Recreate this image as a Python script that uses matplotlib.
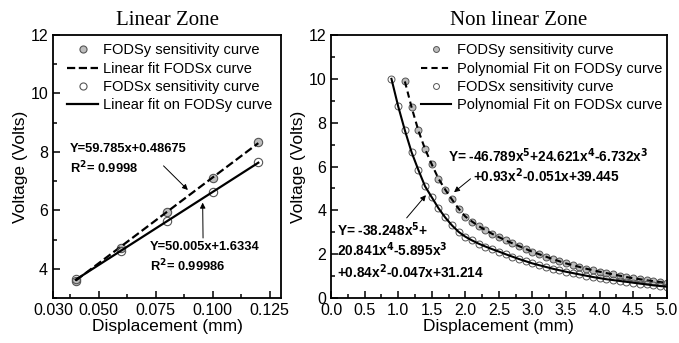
import matplotlib
matplotlib.use('Agg')
import matplotlib.pyplot as plt
from matplotlib.ticker import MultipleLocator, FixedLocator, FormatStrFormatter

plt.rcParams['font.family'] = ['Liberation Sans', 'DejaVu Sans']

# linear zone data
lin_x = [0.04, 0.06, 0.08, 0.10, 0.12]
lin_y_fodsy = [3.60, 4.72, 5.94, 7.10, 8.33]
lin_y_fodsx = [3.66, 4.60, 5.62, 6.62, 7.65]
lin_fit_x = [0.04, 0.12]
lin_fit_y = [3.60, 8.30]
lin_fit_x2 = [0.04, 0.12]
lin_fit_y2 = [3.63, 7.63]

# non linear zone data
nl_x_fodsy = [1.1, 1.2, 1.3, 1.4, 1.5, 1.6, 1.7, 1.8, 1.9, 2.0,
              2.1, 2.2, 2.3, 2.4, 2.5, 2.6, 2.7, 2.8, 2.9, 3.0,
              3.1, 3.2, 3.3, 3.4, 3.5, 3.6, 3.7, 3.8, 3.9, 4.0,
              4.1, 4.2, 4.3, 4.4, 4.5, 4.6, 4.7, 4.8, 4.9, 5.0]
nl_y_fodsy = [9.88, 8.70, 7.65, 6.80, 6.10, 5.45, 4.95, 4.50, 4.08, 3.72,
              3.49, 3.28, 3.10, 2.93, 2.78, 2.63, 2.50, 2.37, 2.24, 2.11,
              2.00, 1.89, 1.78, 1.68, 1.58, 1.50, 1.42, 1.34, 1.27, 1.20,
              1.14, 1.08, 1.02, 0.96, 0.90, 0.86, 0.81, 0.77, 0.73, 0.69]
nl_x_fodsx = [0.9, 1.0] + nl_x_fodsy
nl_y_fodsx = [10.0, 8.75, 7.65, 6.65, 5.85, 5.10, 4.60, 4.10, 3.68, 3.32, 3.02, 2.80,
              2.63, 2.48, 2.35, 2.23, 2.12, 2.00, 1.89, 1.78, 1.68, 1.58,
              1.50, 1.42, 1.34, 1.27, 1.20, 1.14, 1.08, 1.02, 0.96, 0.91,
              0.86, 0.82, 0.78, 0.74, 0.70, 0.66, 0.62, 0.58, 0.55, 0.52]

grey = '#bdbdbd'
edge = '#555555'

fig = plt.figure(figsize=(6.79, 3.43), dpi=100)
ax1 = fig.add_axes([0.078, 0.131, 0.336, 0.767])
ax2 = fig.add_axes([0.4875, 0.131, 0.4945, 0.767])

for ax in (ax1, ax2):
    for sp in ax.spines.values():
        sp.set_linewidth(1.3)
    ax.tick_params(which='both', direction='in', top=False, right=False,
                   labelsize=11.5, width=1.1)
    ax.tick_params(which='major', length=5)
    ax.tick_params(which='minor', length=3)
    ax.set_xlabel('Displacement (mm)', fontsize=12.5, labelpad=1)
    ax.set_ylabel('Voltage (Volts)', fontsize=12.5, labelpad=2)

leg_kw = dict(loc='upper right', frameon=False, fontsize=10.5,
              handlelength=2.1, handletextpad=0.35, labelspacing=0.3,
              borderpad=0.25, markerscale=0.85)

# ---- linear zone
ax1.plot(lin_x, lin_y_fodsy, 'o', ms=6, mfc=grey, mec=edge, mew=0.8,
         label='FODSy sensitivity curve')
ax1.plot(lin_fit_x, lin_fit_y, '--', color='black', lw=1.6,
         label='Linear fit FODSx curve')
ax1.plot(lin_x, lin_y_fodsx, 'o', ms=6, mfc='none', mec=edge, mew=0.8,
         label='FODSx sensitivity curve')
ax1.plot(lin_fit_x2, lin_fit_y2, '-', color='black', lw=1.6,
         label='Linear fit on FODSy curve')
ax1.set_xlim(0.03, 0.13)
ax1.set_ylim(3, 12)
ax1.xaxis.set_major_locator(FixedLocator([0.03, 0.05, 0.075, 0.1, 0.125]))
ax1.set_xticklabels(['0.030', '0.050', '0.075', '0.100', '0.125'])
ax1.xaxis.set_minor_locator(FixedLocator([0.0375, 0.0625, 0.0875, 0.1125]))
ax1.yaxis.set_minor_locator(MultipleLocator(1))
ax1.set_yticks([4, 6, 8, 10, 12])
ax1.set_title('Linear Zone', family='Liberation Serif', fontsize=15, pad=7)
ax1.legend(bbox_to_anchor=(1.01, 1.01), **leg_kw)

ax1.annotate('', xy=(0.09, 6.63), xytext=(0.0776, 7.59),
             arrowprops=dict(arrowstyle='-|>', color='black', lw=0.7,
                             mutation_scale=8))
ax1.text(0.0375, 8.1, 'Y=59.785x+0.48675', fontsize=9.3, fontweight='bold',
         va='center')
ax1.text(0.0375, 7.45, r'R$^{\mathbf{2}}$= 0.9998', fontsize=9.3,
         fontweight='bold', va='center')
ax1.annotate('', xy=(0.0956, 6.36), xytext=(0.0958, 4.96),
             arrowprops=dict(arrowstyle='-|>', color='black', lw=0.7,
                             mutation_scale=8))
ax1.text(0.0724, 4.75, 'Y=50.005x+1.6334', fontsize=9.3, fontweight='bold',
         va='center')
ax1.text(0.0724, 4.1, r'R$^{\mathbf{2}}$= 0.99986', fontsize=9.3,
         fontweight='bold', va='center')

# ---- non linear zone
ax2.plot(nl_x_fodsy, nl_y_fodsy, 'o', ms=5, mfc=grey, mec=edge, mew=0.7,
         label='FODSy sensitivity curve')
ax2.plot(nl_x_fodsy, nl_y_fodsy, '--', color='black', lw=1.5,
         dashes=(3, 2), label='Polynomial Fit on FODSy curve')
ax2.plot(nl_x_fodsx, nl_y_fodsx, 'o', ms=5, mfc='none', mec=edge, mew=0.7,
         label='FODSx sensitivity curve')
ax2.plot(nl_x_fodsx, nl_y_fodsx, '-', color='black', lw=1.5,
         label='Polynomial Fit on FODSx curve')
ax2.set_xlim(0, 5)
ax2.set_ylim(0, 12)
ax2.xaxis.set_major_locator(MultipleLocator(0.5))
ax2.xaxis.set_minor_locator(MultipleLocator(0.25))
ax2.yaxis.set_major_locator(MultipleLocator(2))
ax2.yaxis.set_minor_locator(MultipleLocator(1))
ax2.xaxis.set_major_formatter(FormatStrFormatter('%.1f'))
ax2.set_title('Non linear Zone', family='Liberation Serif', fontsize=15,
              pad=7, x=0.56)
ax2.legend(bbox_to_anchor=(1.018, 1.01), **leg_kw)

ax2.annotate('', xy=(1.80, 4.75), xytext=(2.11, 5.52),
             arrowprops=dict(arrowstyle='-|>', color='black', lw=0.7,
                             mutation_scale=8))
ax2.text(1.74, 6.5, r'Y= -46.789x$^{\mathbf{5}}$+24.621x$^{\mathbf{4}}$-6.732x$^{\mathbf{3}}$',
         fontsize=9.8, fontweight='bold', va='center')
ax2.text(2.12, 5.6, r'+0.93x$^{\mathbf{2}}$-0.051x+39.445',
         fontsize=9.8, fontweight='bold', va='center')
ax2.annotate('', xy=(1.44, 4.79), xytext=(1.10, 3.56),
             arrowprops=dict(arrowstyle='-|>', color='black', lw=0.7,
                             mutation_scale=8))
ax2.text(0.09, 3.1, r'Y= -38.248x$^{\mathbf{5}}$+', fontsize=9.8,
         fontweight='bold', va='center')
ax2.text(0.09, 2.2, r'20.841x$^{\mathbf{4}}$-5.895x$^{\mathbf{3}}$', fontsize=9.8,
         fontweight='bold', va='center')
ax2.text(0.09, 1.2, r'+0.84x$^{\mathbf{2}}$-0.047x+31.214', fontsize=9.8,
         fontweight='bold', va='center')

fig.savefig('out.png', dpi=100)
